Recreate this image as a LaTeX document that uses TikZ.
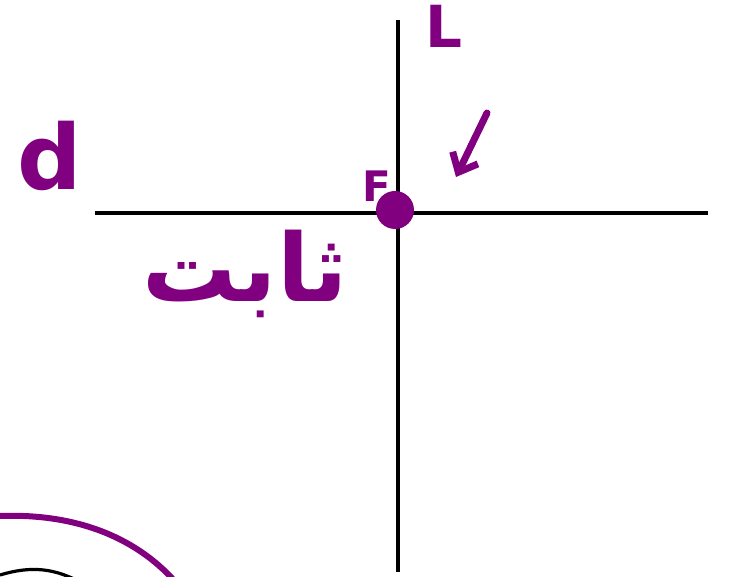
\documentclass[tikz,border=0pt]{standalone}
\usepackage{fontspec}
\setmainfont{DejaVu Sans}
\newfontfamily\arabicfont[Script=Arabic]{DejaVu Sans}
\TeXXeTstate=1
\usetikzlibrary{arrows.meta}
\definecolor{ink}{RGB}{128,0,128}

\begin{document}
\begin{tikzpicture}[x=0.5pt, y=-0.5pt,
    axis/.style={draw=black, line width=1.6pt},
    stroke/.style={draw=ink, line width=3.5pt, line cap=round},
    scrawl/.style={text=ink, inner sep=0pt, font=\bfseries\fontsize{#1}{#1}\selectfont}]
  \useasboundingbox (0,0) rectangle (730,577);
  % axes
  \coordinate (west) at (95,213);
  \coordinate (east) at (708,213);
  \coordinate (north) at (398,20);
  \coordinate (south) at (398,572);
  \draw[axis] (west) -- (east);
  \draw[axis] (north) -- (south);
  % point and labels
  \node[circle, fill=ink, inner sep=0pt, minimum size=19pt] (point) at (395,210) {};
  \node[scrawl=21pt] (force) at (377,186) {F};
  \node[scrawl=45pt] (dlabel) at (50,156) {d};
  \node[scrawl=29pt] (llabel) at (444,26) {L};
  \node[scrawl=47pt] (word) at (245,274) {\arabicfont\beginR ثابت\endR};
  % arrow to the point
  \coordinate (arrowtail) at (487,113);
  \coordinate (arrowtip) at (456,177);
  \draw[stroke, -{Straight Barb[length=8pt, width=14pt]}] (arrowtail) -- (arrowtip);
  % arcs in the corner
  \draw[stroke, line width=3pt] (0,516) .. controls (80,513) and (140,540) .. (178,585);
  \draw[axis] (0,575) .. controls (30,566) and (55,567) .. (85,585);
\end{tikzpicture}
\end{document}
